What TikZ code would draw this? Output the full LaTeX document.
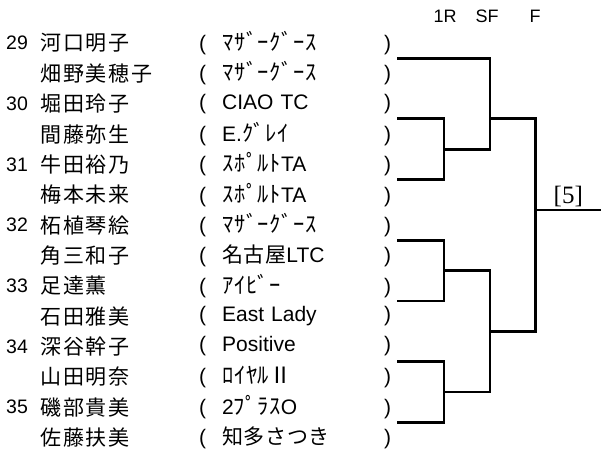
\documentclass[tikz,border=0pt]{standalone}
\usepackage{fontspec}
\setmainfont{Liberation Sans}
\newfontfamily\jpname[LetterSpace=9]{Noto Sans CJK JP}
\newfontfamily\jpclub[LetterSpace=3]{Noto Sans CJK JP}
\newfontfamily\hankanafont[LetterSpace=3]{Noto Sans CJK JP}
\newcommand\kana{\jpclub\fontsize{21pt}{22pt}\selectfont}
\newcommand\hankana{\hankanafont\fontsize{22.5pt}{22pt}\selectfont}
\newfontfamily\seedserif{Liberation Serif}
\tikzstyle{player} = [anchor=west, inner sep=0pt,
                      font=\jpname\fontsize{21pt}{22pt}\selectfont]
\tikzstyle{club} = [anchor=west, inner sep=0pt, text width=192pt,
                    font=\fontsize{21pt}{22pt}\selectfont]
\tikzstyle{entryno} = [anchor=west, inner sep=0pt,
                       font=\fontsize{19.5pt}{20pt}\selectfont]
\tikzstyle{roundlabel} = [inner sep=0pt, font=\fontsize{18pt}{20pt}\selectfont]
\tikzstyle{bracketline} = [line width=2.8pt]

\begin{document}
\begin{tikzpicture}[x=1pt, y=-1pt]
        \useasboundingbox (0,0) rectangle (601,457);

        %Round headings
        \node (R1) [roundlabel] at (445,16) {1R};
        \node (SF) [roundlabel] at (487,16) {SF};
        \node (Fin) [roundlabel] at (535,16) {F};

        %Entry numbers
        \node (No29) [entryno] at (6,43.2) {29};
        \node (No30) [entryno] at (6,103.9) {30};
        \node (No31) [entryno] at (6,164.5) {31};
        \node (No32) [entryno] at (6,225.2) {32};
        \node (No33) [entryno] at (6,285.8) {33};
        \node (No34) [entryno] at (6,346.5) {34};
        \node (No35) [entryno] at (6,407.2) {35};

        %Players
        \node (P1) [player] at (40,43.2) {河口明子};
        \node (P2) [player] at (40,73.5) {畑野美穂子};
        \node (P3) [player] at (40,103.9) {堀田玲子};
        \node (P4) [player] at (40,134.2) {間藤弥生};
        \node (P5) [player] at (40,164.5) {牛田裕乃};
        \node (P6) [player] at (40,194.9) {梅本未来};
        \node (P7) [player] at (40,225.2) {柘植琴絵};
        \node (P8) [player] at (40,255.5) {角三和子};
        \node (P9) [player] at (40,285.8) {足達薫};
        \node (P10) [player] at (40,316.2) {石田雅美};
        \node (P11) [player] at (40,346.5) {深谷幹子};
        \node (P12) [player] at (40,376.8) {山田明奈};
        \node (P13) [player] at (40,407.2) {磯部貴美};
        \node (P14) [player] at (40,437.5) {佐藤扶美};

        %Clubs
        \node (C1) [club] at (199,43.2) {(\hspace{16pt}{\hankana ﾏｻﾞｰｸﾞｰｽ}\hfill)};
        \node (C2) [club] at (199,73.5) {(\hspace{16pt}{\hankana ﾏｻﾞｰｸﾞｰｽ}\hfill)};
        \node (C3) [club] at (199,103.9) {(\hspace{16pt}CIAO TC\hfill)};
        \node (C4) [club] at (199,134.2) {(\hspace{16pt}E.{\hankana ｸﾞﾚｲ}\hfill)};
        \node (C5) [club] at (199,164.5) {(\hspace{16pt}{\hankana ｽﾎﾟﾙﾄ}TA\hfill)};
        \node (C6) [club] at (199,194.9) {(\hspace{16pt}{\hankana ｽﾎﾟﾙﾄ}TA\hfill)};
        \node (C7) [club] at (199,225.2) {(\hspace{16pt}{\hankana ﾏｻﾞｰｸﾞｰｽ}\hfill)};
        \node (C8) [club] at (199,255.5) {(\hspace{16pt}{\kana 名古屋}LTC\hfill)};
        \node (C9) [club] at (199,285.8) {(\hspace{16pt}{\hankana ｱｲﾋﾞｰ}\hfill)};
        \node (C10) [club] at (199,316.2) {(\hspace{16pt}East Lady\hfill)};
        \node (C11) [club] at (199,346.5) {(\hspace{16pt}Positive\hfill)};
        \node (C12) [club] at (199,376.8) {(\hspace{16pt}{\hankana ﾛｲﾔﾙⅡ}\hfill)};
        \node (C13) [club] at (199,407.2) {(\hspace{16pt}2{\hankana ﾌﾟﾗｽ}O\hfill)};
        \node (C14) [club] at (199,437.5) {(\hspace{16pt}{\kana 知多さつき}\hfill)};

        %Entry line ends
        \coordinate (E29) at (397,58.3);
        \coordinate (E30) at (397,118.9);
        \coordinate (E31) at (397,179.6);
        \coordinate (E32) at (397,240.3);
        \coordinate (E33) at (397,301.0);
        \coordinate (E34) at (397,361.6);
        \coordinate (E35) at (397,422.3);

        %1R joins
        \coordinate (Q1) at (444,149.3);
        \coordinate (Q2) at (444,270.6);
        \coordinate (Q3) at (444,392.0);
        %SF joins
        \coordinate (S1) at (490,118.9);
        \coordinate (S2) at (490,331.3);
        %Final
        \coordinate (Fj) at (535.5,210);
        \coordinate (Out) at (601,210);

        %1R
        \draw [bracketline] (E30) -| (Q1) |- (E31);
        \draw [bracketline] (E32) -| (Q2) |- (E33);
        \draw [bracketline] (E34) -| (Q3) |- (E35);

        %SF
        \draw [bracketline] (E29) -| (S1) |- (Q1);
        \draw [bracketline] (Q2) -| (S2) |- (Q3);

        %F
        \draw [bracketline] (S1) -| (Fj) |- (S2);
        \draw [bracketline] (Fj) -- node [above=2pt, inner sep=0pt,
              font=\seedserif\fontsize{25pt}{27pt}\selectfont] (Seed) {[5]} (Out);

\end{tikzpicture}
\end{document}
